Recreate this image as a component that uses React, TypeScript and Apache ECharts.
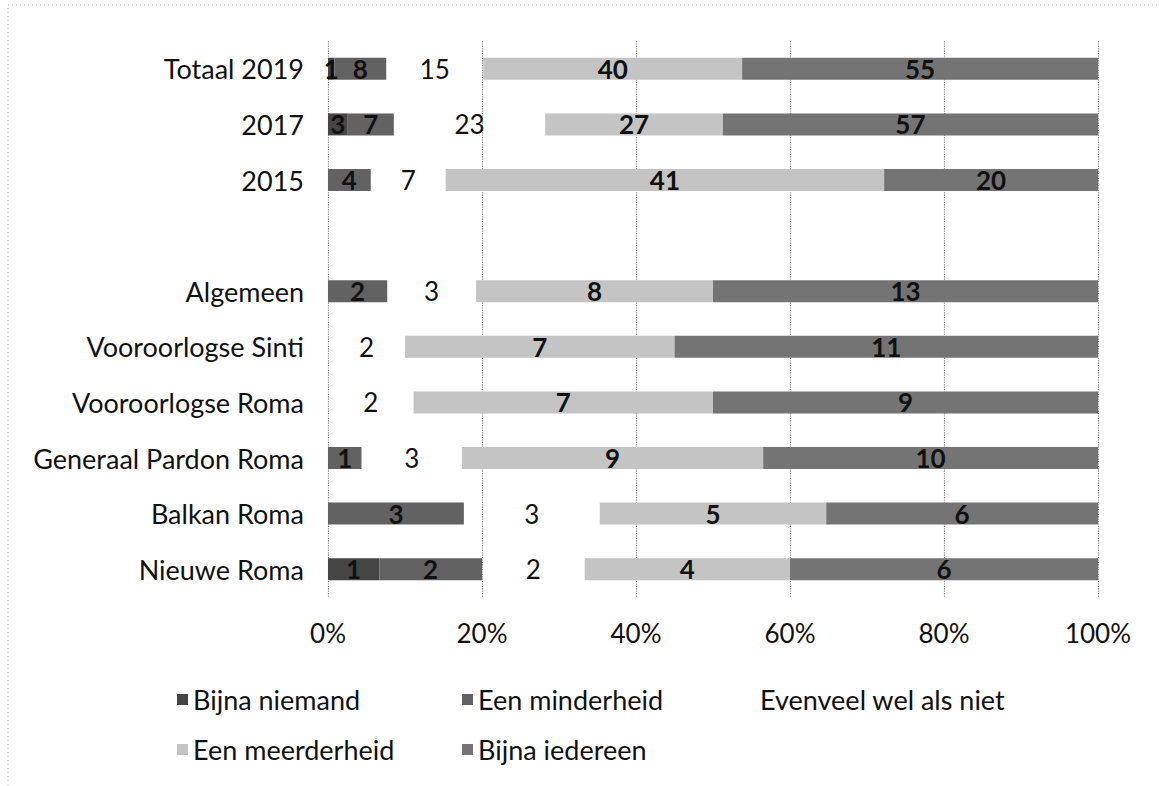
import React, { useEffect, useRef } from "react";
import * as echarts from "echarts";

const categories = [
  "Totaal 2019",
  "2017",
  "2015",
  "",
  "Algemeen",
  "Vooroorlogse Sinti",
  "Vooroorlogse Roma",
  "Generaal Pardon Roma",
  "Balkan Roma",
  "Nieuwe Roma",
];
const seriesNames = [
  "Bijna niemand",
  "Een minderheid",
  "Evenveel wel als niet",
  "Een meerderheid",
  "Bijna iedereen",
];
const bijnaNiemand = [1, 3, null, null, null, null, null, null, null, 1];
const eenMinderheid = [8, 7, 4, null, 2, null, null, 1, 3, 2];
const evenveel = [15, 23, 7, null, 3, 2, 2, 3, 3, 2];
const eenMeerderheid = [40, 27, 41, null, 8, 7, 7, 9, 5, 4];
const bijnaIedereen = [55, 57, 20, null, 13, 11, 9, 10, 6, 6];
const xTicks = [0, 20, 40, 60, 80, 100];

const colors = ["#454545", "#626262", "rgba(0,0,0,0)", "#c4c4c4", "#747474"];
const FONT = "Lato";

export default function App() {
  const ref = useRef<HTMLDivElement>(null);
  useEffect(() => {
    if (!ref.current) return;
    const chart = echarts.init(ref.current, null, { renderer: "svg" });
    const all = [bijnaNiemand, eenMinderheid, evenveel, eenMeerderheid, bijnaIedereen];
    const totals = categories.map((_, i) =>
      all.reduce((s, arr) => s + (arr[i] || 0), 0)
    );
    const series = all.map((arr, si) => ({
      name: seriesNames[si],
      type: "bar",
      stack: "total",
      barWidth: 22,
      itemStyle: { color: colors[si] },
      label: {
        show: true,
        position: "inside",
        color: "#111",
        fontFamily: FONT,
        fontSize: 26,
        fontWeight: si === 2 ? "normal" : "bold",
        formatter: (p: any) => (p.data && p.data.raw != null ? String(p.data.raw) : ""),
      },
      data: arr.map((v, i) =>
        v == null || totals[i] === 0
          ? { value: null, raw: null }
          : { value: (v / totals[i]) * 100, raw: v }
      ),
    }));
    const legendPos = [
      { left: 172, top: 681 },
      { left: 457, top: 681 },
      { left: 739, top: 681 },
      { left: 172, top: 731 },
      { left: 457, top: 731 },
    ];
    chart.setOption({
      animation: false,
      color: colors,
      grid: { left: 328, right: 61, top: 41, bottom: 189, containLabel: false },
      xAxis: {
        type: "value",
        min: xTicks[0],
        max: xTicks[xTicks.length - 1],
        interval: 20,
        axisLine: { show: false },
        axisTick: { show: false },
        axisLabel: {
          formatter: "{value}%",
          fontFamily: FONT,
          fontSize: 26,
          color: "#111",
          margin: 23,
        },
        splitLine: { show: true, lineStyle: { type: "dotted", color: "#888", width: 1.2 } },
      },
      yAxis: {
        type: "category",
        inverse: true,
        data: categories,
        axisLine: { show: false },
        axisTick: { show: false },
        axisLabel: { fontFamily: FONT, fontSize: 27, color: "#111", margin: 24 },
      },
      legend: seriesNames.map((n, i) => ({
        data: [n],
        left: legendPos[i].left,
        top: legendPos[i].top,
        icon: "rect",
        itemWidth: 11,
        itemHeight: 11,
        selectedMode: false,
        textStyle: { fontFamily: FONT, fontSize: 27, color: "#111" },
      })),
      graphic: [
        {
          type: "rect",
          shape: { x: 8, y: 5, width: 1170, height: 800 },
          style: { fill: "none", stroke: "#bbb", lineDash: [1, 3], lineWidth: 1 },
          silent: true,
        },
      ],
      series,
    });
    return () => chart.dispose();
  }, []);
  return (
    <div
      ref={ref}
      style={{ position: "absolute", left: 0, top: 0, width: 1159, height: 786, background: "#fff" }}
    />
  );
}
